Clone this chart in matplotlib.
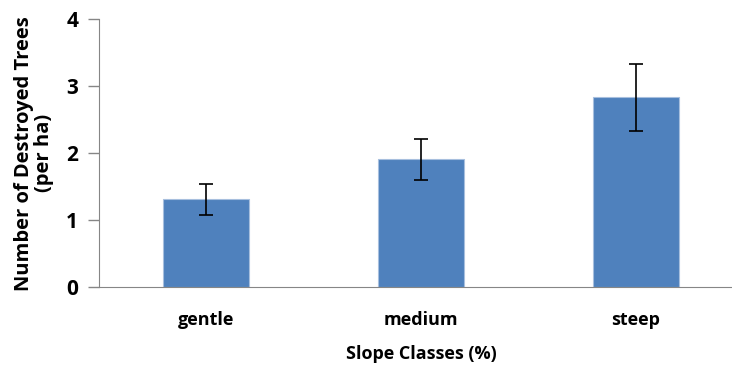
import matplotlib.pyplot as plt

# slope classes and mean destroyed trees per ha
categories = ['gentle', 'medium', 'steep']
values = [1.31, 1.91, 2.84]
err_low = [0.24, 0.31, 0.50]
err_high = [0.23, 0.31, 0.50]

plt.rcParams['font.family'] = ['Open Sans', 'DejaVu Sans']

fig = plt.figure(figsize=(7.32, 3.70), dpi=100)
ax = fig.add_axes([99 / 732, 1 - 287 / 370, 644 / 732, 267.5 / 370])

x = range(len(categories))
ax.bar(x, values, width=0.40, color='#4F81BD', edgecolor='#A7BFDE', linewidth=0.8,
       yerr=[err_low, err_high], ecolor='black',
       error_kw=dict(elinewidth=1.2, capsize=5, capthick=1.2))

ax.set_xlim(-0.5, 2.5)
ax.set_ylim(0, 4)
ax.set_yticks([0, 1, 2, 3, 4])
ax.set_xticks(list(x))
ax.set_xticklabels(categories, fontsize=13, fontweight='bold')
ax.tick_params(axis='x', length=0, pad=17)
ax.tick_params(axis='y', length=8, width=1, color='#868686', labelsize=15, pad=7)
for lbl in ax.get_yticklabels():
    lbl.set_fontweight('bold')

for s in ['top', 'right']:
    ax.spines[s].set_visible(False)
for s in ['left', 'bottom']:
    ax.spines[s].set_color('#868686')

ax.set_xlabel('Slope Classes (%)', fontsize=13, fontweight='bold', labelpad=12)
ax.set_ylabel('Number of Destroyed Trees\n(per ha)', fontsize=14.5, fontweight='bold',
              labelpad=9, linespacing=1.0)

fig.savefig('out.png', dpi=100)
